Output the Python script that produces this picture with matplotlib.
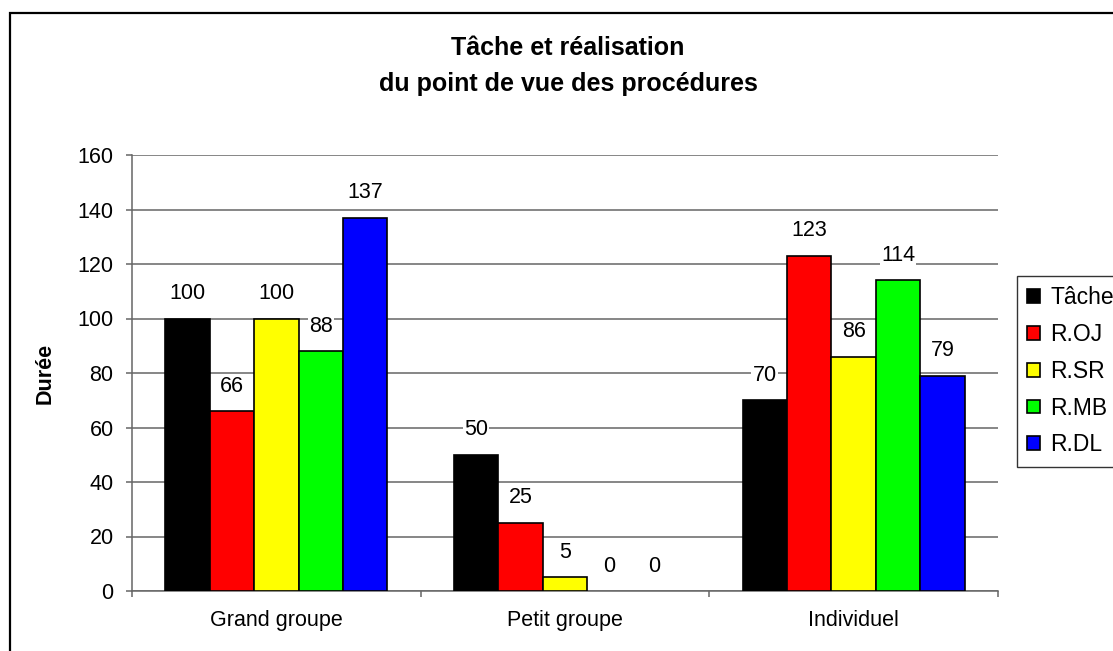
import matplotlib
matplotlib.use("Agg")
import matplotlib.pyplot as plt
import numpy as np
from matplotlib.patches import Rectangle

categories = ["Grand groupe", "Petit groupe", "Individuel"]
series_names = ["Tâche", "R.OJ", "R.SR", "R.MB", "R.DL"]
tache = [100, 50, 70]
r_oj = [66, 25, 123]
r_sr = [100, 5, 86]
r_mb = [88, 0, 114]
r_dl = [137, 0, 79]
series_values = [tache, r_oj, r_sr, r_mb, r_dl]
colors = ["#000000", "#ff0000", "#ffff00", "#00ff00", "#0000ff"]
title = "Tâche et réalisation\ndu point de vue des procédures"
ylabel = "Durée"

plt.rcParams['font.family'] = ['Liberation Sans', 'DejaVu Sans']

W, H = 1113, 651
fig = plt.figure(figsize=(W / 100, H / 100), dpi=100)
ax = fig.add_axes([132 / W, 1 - 591 / H, (998 - 132) / W, (591 - 155) / H])

x = np.arange(len(categories))
bw = 0.154
grid_c = "#666666"
for i, (name, vals, c) in enumerate(zip(series_names, series_values, colors)):
    pos = x + (i - 2) * bw
    bars = ax.bar(pos, vals, width=bw, color=c, edgecolor="black", linewidth=1.2,
                  label=name, zorder=3)
    for b, v in zip(bars, vals):
        if v == 0:
            b.set_visible(False)
    for xp, v in zip(pos, vals):
        ax.annotate(str(v), xy=(xp, v), xytext=(0, 18), textcoords="offset points",
                    ha="center", va="center", fontsize=15.5, zorder=5,
                    bbox=dict(facecolor="white", edgecolor="none", pad=1))

ax.set_xlim(-0.5, 2.5)
ax.set_ylim(0, 160)
ax.set_yticks(np.arange(0, 161, 20))
ax.yaxis.grid(True, color=grid_c, linewidth=1.1, zorder=0)
ax.set_axisbelow(True)
for s in ["top", "right"]:
    ax.spines[s].set_visible(False)
for s in ["left", "bottom"]:
    ax.spines[s].set_color(grid_c)
    ax.spines[s].set_linewidth(1.1)

ax.set_xticks(x)
ax.set_xticklabels(categories, fontsize=15.5)
ax.tick_params(axis="x", which="major", length=0, pad=14)
ax.set_xticks([-0.5, 0.5, 1.5, 2.5], minor=True)
ax.tick_params(axis="x", which="minor", length=4.3, color=grid_c, width=1.1)
ax.tick_params(axis="y", length=4.3, color=grid_c, width=1.1, pad=9, labelsize=15.5)

ax.set_ylabel(ylabel, fontsize=15.5, fontweight="bold")
ax.yaxis.set_label_coords((56 - 132) / (998 - 132), 0.5)

fig.text(568 / W, 1 - 66 / H, title, ha="center", va="center", fontsize=18,
         fontweight="bold", linespacing=1.65)

handles, labels = ax.get_legend_handles_labels()
leg = fig.legend(handles, labels, loc="upper left", bbox_to_anchor=(1017 / W, 1 - 276 / H),
                 borderaxespad=0, fontsize=16.5, frameon=True, fancybox=False,
                 edgecolor="black", handlelength=0.55, handleheight=0.55,
                 handletextpad=0.45, labelspacing=0.6, borderpad=0.45)
leg.get_frame().set_linewidth(1.0)
for h in leg.legend_handles:
    h.set_visible(True)

fig.patches.append(Rectangle((10 / W, -0.1), 1.2, 1 - 13 / H + 0.1,
                             transform=fig.transFigure, fill=False,
                             edgecolor="black", linewidth=1.6))

fig.savefig("out.png", dpi=100)
